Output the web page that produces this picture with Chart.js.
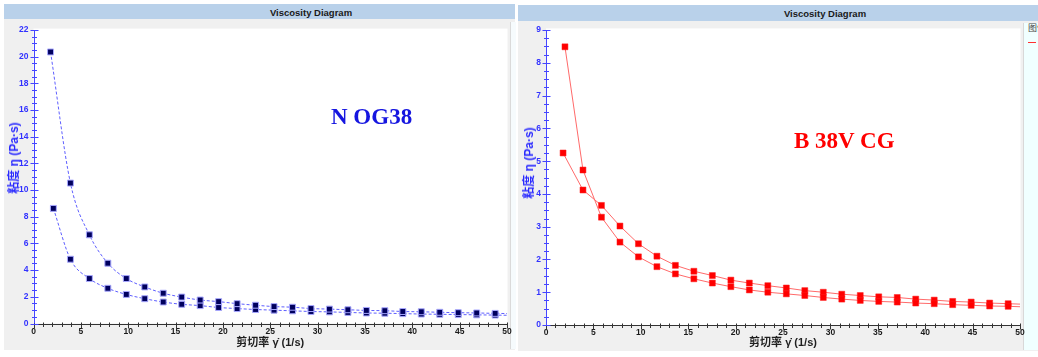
<!DOCTYPE html>
<html>
<head>
<meta charset="utf-8">
<script src="https://cdn.jsdelivr.net/npm/chart.js@4/dist/chart.umd.min.js"></script>
<style>
  html, body { margin: 0; padding: 0; background: #ffffff; }
  body { width: 1038px; height: 357px; position: relative; overflow: hidden; font-family: "Liberation Sans", Arial, sans-serif; }
  .panel { position: absolute; background: #f0f0f0; }
  .bar { position: absolute; background: #b9d1ea; color: #1a1a1a; font: bold 9.5px "Liberation Sans", Arial, sans-serif; }
  .bar span { position: absolute; top: 50%; transform: translate(-50%, -50%); white-space: nowrap; }
  canvas { position: absolute; }
  .ytitle { position: absolute; color: #2a2aff; font: bold 12px "Liberation Sans", "Noto Sans CJK SC", sans-serif; line-height: 12px; white-space: nowrap; transform: translate(-50%, -50%) rotate(-90deg); }
  .note { position: absolute; font: bold 23px "Liberation Serif", "Times New Roman", serif; white-space: nowrap; }
  .strip { position: absolute; }
</style>
</head>
<body>
<div class="panel" style="left:4px;top:4px;width:511px;height:346px;"></div>
<div class="panel" style="left:518px;top:5px;width:520px;height:346px;"></div>
<div class="bar" style="left:4px;top:4px;width:511px;height:15px;"><span style="left:307px;">Viscosity Diagram</span></div>
<div class="bar" style="left:518px;top:5px;width:520px;height:16px;"><span style="left:307px;">Viscosity Diagram</span></div>
<div class="strip" style="left:510px;top:22px;width:5px;height:327px;background:#f6fbfd;border-left:1px solid #dadada;"></div>
<div class="strip" style="left:1023px;top:23px;width:15px;height:327px;background:#f0ffff;border-left:1px solid #d8d8d8;overflow:hidden;">
  <div style="position:absolute;left:4px;top:0px;font:9px 'Noto Sans CJK SC',sans-serif;color:#444;white-space:nowrap;line-height:10px;">图例</div>
  <div style="position:absolute;left:4px;top:19px;width:8px;height:1px;background:#ff3030;"></div>
</div>

<canvas id="c1" width="511" height="330" style="left:4px;top:20px;"></canvas>
<canvas id="c2" width="520" height="331" style="left:518px;top:20px;"></canvas>

<div class="ytitle" style="left:14px;top:158px;">粘度 η (Pa·s)</div>
<div class="ytitle" style="left:529px;top:163px;">粘度 η (Pa·s)</div>
<div class="note" style="left:331px;top:104px;color:#1616e0;">N OG38</div>
<div class="note" style="left:794px;top:128px;color:#ff0000;">B 38V CG</div>

<script>
// ---------- Data ----------
// Left chart: N OG38
const leftUpX = [1.8, 3.9, 5.9, 7.85, 9.8, 11.75, 13.7, 15.65, 17.6, 19.55, 21.5, 23.45, 25.4, 27.35, 29.3, 31.25, 33.2, 35.15, 37.1, 39.0, 40.95, 42.9, 44.85, 46.8, 48.75, 50.7];
const leftUpY = [20.36, 10.53, 6.65, 4.52, 3.37, 2.74, 2.27, 1.98, 1.76, 1.64, 1.49, 1.37, 1.27, 1.22, 1.12, 1.08, 1.03, 0.98, 0.96, 0.90, 0.88, 0.84, 0.81, 0.79, 0.76, 0.74];
const leftDownX = [2.1, 3.9, 5.9, 7.85, 9.8, 11.75, 13.7, 15.65, 17.6, 19.55, 21.5, 23.45, 25.4, 27.35, 29.3, 31.25, 33.2, 35.15, 37.1, 39.0, 40.95, 42.9, 44.85, 46.8, 48.75, 50.7];
const leftDownY = [8.63, 4.82, 3.37, 2.64, 2.18, 1.86, 1.61, 1.44, 1.34, 1.20, 1.12, 1.05, 1.00, 0.95, 0.90, 0.87, 0.83, 0.79, 0.77, 0.74, 0.71, 0.69, 0.67, 0.65, 0.63, 0.61];
const leftYTicks = { min: 0, max: 22, major: 2, minor: 0.5 };

// Right chart: B 38V CG
const rightAX = [2.0, 3.9, 5.85, 7.8, 9.75, 11.7, 13.65, 15.6, 17.55, 19.5, 21.45, 23.4, 25.35, 27.3, 29.25, 31.2, 33.15, 35.1, 37.05, 39.0, 40.95, 42.9, 44.85, 46.8, 48.75, 50.7];
const rightAY = [8.49, 4.73, 3.29, 2.53, 2.08, 1.78, 1.56, 1.41, 1.28, 1.17, 1.07, 1.00, 0.95, 0.90, 0.84, 0.79, 0.75, 0.72, 0.70, 0.67, 0.65, 0.62, 0.60, 0.58, 0.57, 0.55];
const rightBX = [1.8, 3.9, 5.85, 7.8, 9.75, 11.7, 13.65, 15.6, 17.55, 19.5, 21.45, 23.4, 25.35, 27.3, 29.25, 31.2, 33.15, 35.1, 37.05, 39.0, 40.95, 42.9, 44.85, 46.8, 48.75, 50.7];
const rightBY = [5.25, 4.12, 3.65, 3.02, 2.48, 2.10, 1.82, 1.64, 1.51, 1.37, 1.28, 1.20, 1.13, 1.05, 1.00, 0.94, 0.90, 0.86, 0.84, 0.79, 0.76, 0.72, 0.70, 0.67, 0.65, 0.63];
const rightYTicks = { min: 0, max: 9, major: 1, minor: 0.25 };

const xTicks = { min: 0, max: 50, major: 5, minor: 1 };
const xTitle = '剪切率 γ̇ (1/s)';

// ---------- helpers ----------
const pts = (xs, ys) => xs.map((x, i) => ({ x: x, y: ys[i] }));

const axisDeco = {
  id: 'axisDeco',
  beforeDraw(chart, args, o) {
    const { ctx, chartArea: a } = chart;
    ctx.save();
    ctx.fillStyle = '#ffffff';
    ctx.fillRect(a.left, a.top - o.whiteTop, a.right - a.left + 0.5, a.bottom - a.top + o.whiteTop);
    ctx.restore();
  },
  afterDraw(chart, args, o) {
    const { ctx, chartArea: a, scales } = chart;
    const xs = scales.x, ys = scales.y;
    ctx.save();
    ctx.lineWidth = 1;
    // x axis (black with small cross ticks)
    ctx.strokeStyle = '#333333';
    ctx.beginPath();
    const y0 = Math.round(a.bottom) + 0.5;
    ctx.moveTo(a.left, y0); ctx.lineTo(a.right + 0.5, y0);
    for (let v = xTicks.min; v <= xTicks.max + 1e-9; v += xTicks.minor) {
      const px = Math.round(xs.getPixelForValue(v)) + 0.5;
      const major = Math.abs(v / xTicks.major - Math.round(v / xTicks.major)) < 1e-6;
      ctx.moveTo(px, y0 - 2); ctx.lineTo(px, y0 + (major ? 4 : 2.5));
    }
    ctx.stroke();
    // y axis (blue with cross ticks)
    ctx.strokeStyle = '#4646ff';
    ctx.beginPath();
    const x0 = Math.round(a.left) + 0.5;
    ctx.moveTo(x0, ys.top); ctx.lineTo(x0, ys.bottom);
    const t = o.yt;
    for (let v = t.min; v <= t.max + 1e-9; v += t.minor) {
      const py = Math.round(ys.getPixelForValue(v)) + 0.5;
      const major = Math.abs(v / t.major - Math.round(v / t.major)) < 1e-6;
      const len = major ? 4 : 2.5;
      ctx.moveTo(x0 - len, py); ctx.lineTo(x0 + len, py);
    }
    ctx.stroke();
    ctx.restore();
  }
};

function makeChart(id, datasets, yt, layout) {
  return new Chart(document.getElementById(id), {
    type: 'scatter',
    data: { datasets: datasets },
    options: {
      responsive: false,
      animation: false,
      devicePixelRatio: 1,
      layout: { padding: { top: layout.top, right: layout.right, bottom: 0, left: 0 } },
      plugins: {
        legend: { display: false },
        tooltip: { enabled: false },
        axisDeco: { yt: yt, whiteTop: layout.whiteTop }
      },
      scales: {
        x: {
          type: 'linear', min: xTicks.min, max: xTicks.max,
          grid: { display: false, drawTicks: false }, border: { display: false },
          ticks: { stepSize: xTicks.major, padding: 3, color: '#1a1a1a', font: { family: 'Liberation Sans', size: 8.5, weight: 'bold' }, maxRotation: 0 },
          title: { display: true, text: xTitle, color: '#1f1f1f', padding: { top: 0, bottom: layout.titleBottom }, font: { family: '"Liberation Sans", "Noto Sans CJK SC"', size: 11, weight: 'bold' } },
          afterFit: s => { s.height = layout.xHeight; }
        },
        y: {
          type: 'linear', min: yt.min, max: yt.max,
          grid: { display: false, drawTicks: false }, border: { display: false },
          ticks: { stepSize: yt.major, padding: 5, color: '#3232ff', font: { family: 'Liberation Sans', size: 8.5, weight: 'bold' } },
          afterFit: s => { s.width = layout.yWidth; }
        }
      }
    },
    plugins: [axisDeco]
  });
}

const leftStyle = {
  showLine: true, borderColor: '#5e5eff', borderWidth: 1, borderDash: [3, 2],
  cubicInterpolationMode: 'monotone',
  pointStyle: 'rect', pointRadius: 4.2, pointBackgroundColor: '#00005e',
  pointBorderColor: '#a8a8ff', pointBorderWidth: 1
};
makeChart('c1', [
  Object.assign({ label: 'up', data: pts(leftUpX, leftUpY) }, leftStyle),
  Object.assign({ label: 'down', data: pts(leftDownX, leftDownY) }, leftStyle)
], leftYTicks, { top: 3, right: 8, xHeight: 26.5, yWidth: 29.5, whiteTop: 1.5, titleBottom: 0 });

const rightStyle = {
  showLine: true, borderColor: '#ff6a6a', borderWidth: 1, tension: 0,
  pointStyle: 'rect', pointRadius: 4.2, pointBackgroundColor: '#ff0000',
  pointBorderColor: '#ff1a1a', pointBorderWidth: 0.5
};
makeChart('c2', [
  Object.assign({ label: 'A', data: pts(rightAX, rightAY) }, rightStyle),
  Object.assign({ label: 'B', data: pts(rightBX, rightBY) }, rightStyle)
], rightYTicks, { top: 4.7, right: 18, xHeight: 26, yWidth: 28, whiteTop: 1.7, titleBottom: 1 });
</script>
</body>
</html>
